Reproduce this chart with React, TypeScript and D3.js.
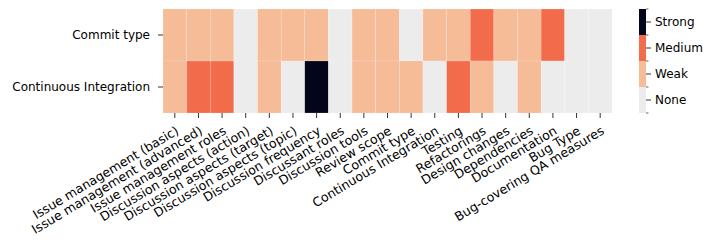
import { useRef, useEffect } from 'react';
import * as d3 from 'd3';

const rows = ['Commit type', 'Continuous Integration'];

const columns = [
  'Issue management (basic)',
  'Issue management (advanced)',
  'Issue management roles',
  'Discussion aspects (action)',
  'Discussion aspects (target)',
  'Discussion aspects (topic)',
  'Discussion frequency',
  'Discussant roles',
  'Discussion tools',
  'Review scope',
  'Commit type',
  'Continuous Integration',
  'Testing',
  'Refactorings',
  'Design changes',
  'Dependencies',
  'Documentation',
  'Bug Type',
  'Bug-covering QA measures',
];

// 0 = None, 1 = Weak, 2 = Medium, 3 = Strong
const commitTypeValues = [1, 1, 1, 0, 1, 1, 1, 0, 1, 1, 0, 1, 1, 2, 1, 1, 2, 0, 0];
const ciValues = [1, 2, 2, 0, 1, 0, 3, 0, 1, 1, 1, 0, 2, 1, 0, 1, 0, 0, 0];

const levels = ['None', 'Weak', 'Medium', 'Strong'];
const levelColors = ['#ececec', '#f6bb97', '#f26b4a', '#03051a'];

const App = () => {
  const svgRef = useRef<SVGSVGElement>(null);

  useEffect(() => {
    if (!svgRef.current) return;

    const width = 713;
    const height = 249;
    const margin = { left: 163, top: 9, right: 612, bottom: 113 };
    const font = 'DejaVu Sans, sans-serif';
    const fs = 12;
    const tickLen = 5;

    const svg = d3.select(svgRef.current).attr('width', width).attr('height', height);
    svg.selectAll('*').remove();

    const x = d3.scaleBand().domain(columns).range([margin.left, margin.right]);
    const y = d3.scaleBand().domain(rows).range([margin.top, margin.bottom]);
    const color = d3.scaleOrdinal<number, string>().domain([0, 1, 2, 3]).range(levelColors);

    const cells = [commitTypeValues, ciValues].flatMap((vals, r) =>
      vals.map((v, c) => ({ row: rows[r], col: columns[c], v })),
    );

    svg
      .append('g')
      .selectAll('rect')
      .data(cells)
      .enter()
      .append('rect')
      .attr('x', (d) => x(d.col)!)
      .attr('y', (d) => y(d.row)!)
      .attr('width', x.bandwidth())
      .attr('height', y.bandwidth())
      .attr('fill', (d) => color(d.v))
      .attr('stroke', 'rgba(255,255,255,0.35)')
      .attr('stroke-width', 0.5);

    // x axis, labels rotated and right-aligned on the tick
    const xAxis = svg.append('g');
    columns.forEach((c) => {
      const cx = x(c)! + x.bandwidth() / 2;
      xAxis
        .append('line')
        .attr('x1', cx)
        .attr('x2', cx)
        .attr('y1', margin.bottom)
        .attr('y2', margin.bottom + tickLen)
        .attr('stroke', '#000')
        .attr('stroke-width', 0.8);
      xAxis
        .append('text')
        .attr('transform', `translate(${cx},${margin.bottom + 12}) rotate(-31)`)
        .attr('text-anchor', 'end')
        .attr('dy', '0.76em')
        .attr('font-family', font)
        .attr('font-size', 12.6)
        .text(c);
    });

    // y axis
    const yAxis = svg.append('g');
    rows.forEach((r) => {
      const cy = y(r)! + y.bandwidth() / 2;
      yAxis
        .append('line')
        .attr('x1', margin.left - tickLen)
        .attr('x2', margin.left)
        .attr('y1', cy)
        .attr('y2', cy)
        .attr('stroke', '#000')
        .attr('stroke-width', 0.8);
      yAxis
        .append('text')
        .attr('x', margin.left - 13)
        .attr('y', cy)
        .attr('dy', '0.35em')
        .attr('text-anchor', 'end')
        .attr('font-family', font)
        .attr('font-size', fs)
        .text(r);
    });

    // colorbar
    const cbX = 639;
    const cbW = 7;
    const cbY = d3.scaleBand().domain([...levels].reverse()).range([margin.top, margin.bottom]);
    const cb = svg.append('g');
    levels.forEach((l, i) => {
      cb.append('rect')
        .attr('x', cbX)
        .attr('y', cbY(l)!)
        .attr('width', cbW)
        .attr('height', cbY.bandwidth())
        .attr('fill', levelColors[i]);
      const cy = cbY(l)! + cbY.bandwidth() / 2;
      cb.append('line')
        .attr('x1', cbX + cbW)
        .attr('x2', cbX + cbW + tickLen)
        .attr('y1', cy)
        .attr('y2', cy)
        .attr('stroke', '#000')
        .attr('stroke-width', 0.8);
      cb.append('text')
        .attr('x', cbX + cbW + 9)
        .attr('y', cy)
        .attr('dy', '0.35em')
        .attr('font-family', font)
        .attr('font-size', fs)
        .text(l);
    });
    d3.range(levels.length + 1).forEach((i) => {
      const yy = margin.top + (i * (margin.bottom - margin.top)) / levels.length;
      cb.append('line')
        .attr('x1', cbX + cbW)
        .attr('x2', cbX + cbW + 2.5)
        .attr('y1', yy)
        .attr('y2', yy)
        .attr('stroke', '#000')
        .attr('stroke-width', 0.6);
    });
  }, []);

  return (
    <div style={{ position: 'absolute', left: 0, top: 0 }}>
      <svg ref={svgRef}></svg>
    </div>
  );
};

export default App;
